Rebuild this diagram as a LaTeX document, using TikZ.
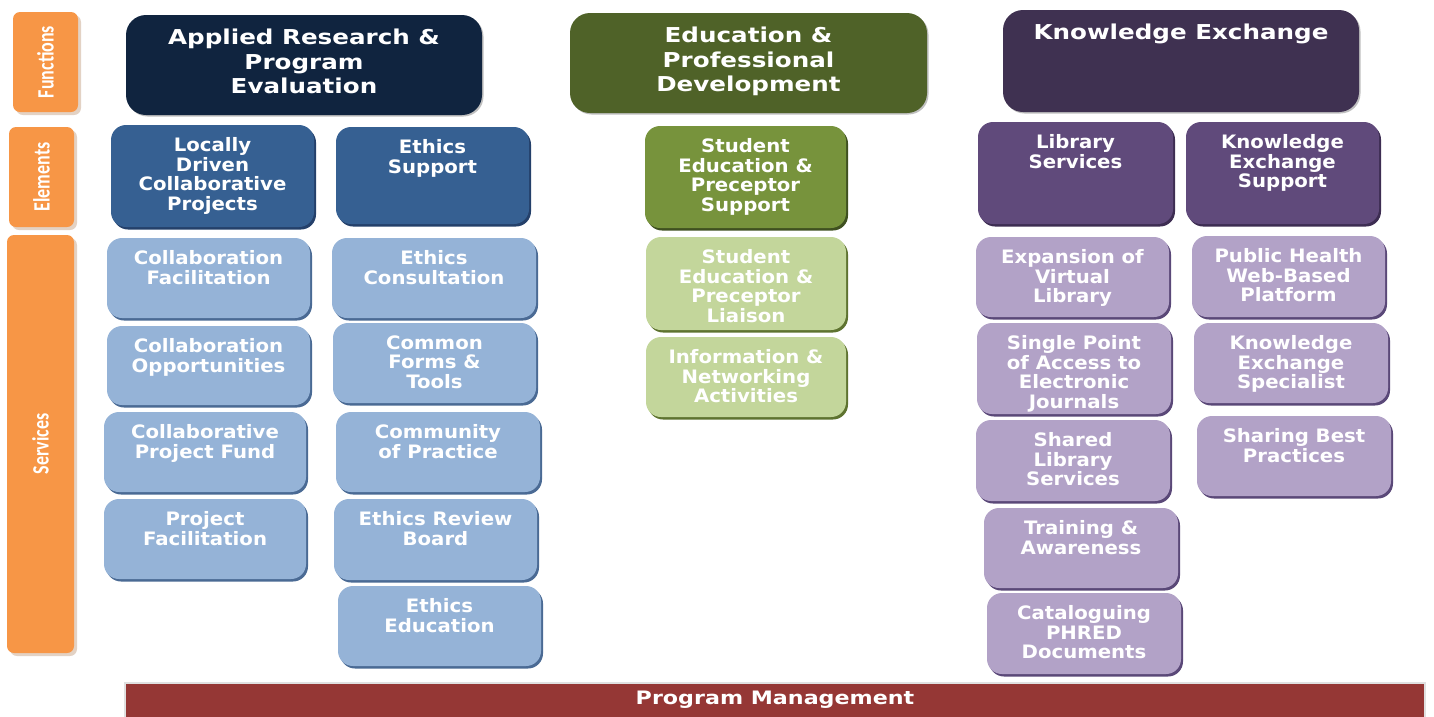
\documentclass[tikz,border=0pt]{standalone}
\usepackage{fontspec}
\usetikzlibrary{shadows}
\newfontfamily\boxfont{DejaVu Sans}[FakeStretch=1.065]
\newfontfamily\headfont{DejaVu Sans}[FakeStretch=1.2]
\newfontfamily\sidefont{Carlito}

\definecolor{sideorange}{HTML}{F79646}
\definecolor{sideshade}{HTML}{E3D2C4}
\definecolor{arnavy}{HTML}{10243F}
\definecolor{arblue}{HTML}{366092}
\definecolor{arblueshade}{HTML}{24406A}
\definecolor{arlight}{HTML}{95B3D7}
\definecolor{arlightshade}{HTML}{4A6A94}
\definecolor{edudark}{HTML}{4F6228}
\definecolor{edumid}{HTML}{77933C}
\definecolor{edumidshade}{HTML}{3F5020}
\definecolor{edulight}{HTML}{C3D69B}
\definecolor{edulightshade}{HTML}{5E7330}
\definecolor{kedark}{HTML}{3F3151}
\definecolor{kemid}{HTML}{604A7B}
\definecolor{kemidshade}{HTML}{3D2D52}
\definecolor{kelight}{HTML}{B2A2C7}
\definecolor{kelightshade}{HTML}{5A4878}
\definecolor{pmred}{HTML}{953735}

\tikzstyle{box} = [rectangle, rounded corners=15pt, inner sep=0pt, outer sep=0pt, draw=none]
\tikzstyle{side} = [box, rounded corners=7pt, fill=sideorange,
copy shadow={shadow xshift=3pt, shadow yshift=-3pt, fill=sideshade, draw=none}]
\tikzstyle{func} = [box, rounded corners=20pt,
copy shadow={shadow xshift=1.5pt, shadow yshift=-1.5pt, fill=black!25, draw=none}]
\tikzstyle{elem} = [box]
\tikzstyle{serv} = [box]
\tikzstyle{txt} = [anchor=north, inner sep=0pt, align=center, text=white, yshift=-12.5pt,
font=\boxfont\bfseries\fontsize{18.5}{19.5}\selectfont]
\tikzstyle{headtxt} = [txt, yshift=-1.5pt, font=\headfont\bfseries\fontsize{20.5}{24.5}\selectfont]
\tikzstyle{sidetxt} = [rotate=90, inner sep=0pt, text=white, font=\sidefont\bfseries\fontsize{18}{20}\selectfont]

\tikzset{
  shade/.style={copy shadow={shadow xshift=2pt, shadow yshift=-2.5pt, fill=#1, draw=none}}
}

\newcommand{\card}[8][txt]{%
  \node[#3, minimum width={#6pt-#4pt}, minimum height={#7pt-#5pt}] (#2) at ({(#4+#6)/2},{(#5+#7)/2}) {};
  \node[#1] (#2-t) at (#2.north) {#8};
}

\begin{document}
\begin{tikzpicture}[x=1pt, y=-1pt]
  \useasboundingbox (0,0) rectangle (1434,716);

  \node (functions) [side, minimum width=65pt, minimum height=100pt] at (45.5,62) {};
  \node (elements) [side, minimum width=65pt, minimum height=100pt] at (41.5,177) {};
  \node (services) [side, minimum width=67pt, minimum height=418pt] at (40.5,444) {};
  \node (functions-t) [sidetxt] at (functions) {\scalebox{1}[1.3]{Functions}};
  \node (elements-t) [sidetxt] at (elements) {\scalebox{1}[1.3]{Elements}};
  \node (services-t) [sidetxt] at (services) {\scalebox{1}[1.3]{Services}};

  \card[headtxt]{fnar}{func, fill=arnavy}{126}{15}{482}{115}{Applied Research \&\\Program\\Evaluation}
  \card[headtxt]{fnedu}{func, fill=edudark}{570}{13}{927}{113}{Education \&\\Professional\\Development}
  \card[headtxt]{fnke}{func, fill=kedark}{1003}{10}{1359}{112}{Knowledge Exchange}

  \card{elloc}{elem, fill=arblue, shade=arblueshade}{111}{125}{314}{227}{Locally\\Driven\\Collaborative\\Projects}
  \card{eleth}{elem, fill=arblue, shade=arblueshade}{336}{127}{529}{224}{Ethics\\Support}
  \card{elstu}{elem, fill=edumid, shade=edumidshade}{645}{126}{846}{228}{Student\\Education \&\\Preceptor\\Support}
  \card{ellib}{elem, fill=kemid, shade=kemidshade}{978}{122}{1173}{224}{Library\\Services}
  \card{elkes}{elem, fill=kemid, shade=kemidshade}{1186}{122}{1379}{224}{Knowledge\\Exchange\\Support}

  \card{svcolfac}{serv, fill=arlight, shade=arlightshade}{107}{238}{310}{318}{Collaboration\\Facilitation}
  \card{svcolopp}{serv, fill=arlight, shade=arlightshade}{107}{326}{310}{405}{Collaboration\\Opportunities}
  \card{svcolfund}{serv, fill=arlight, shade=arlightshade}{104}{412}{306}{492}{Collaborative\\Project Fund}
  \card{svprojfac}{serv, fill=arlight, shade=arlightshade}{104}{499}{306}{579}{Project\\Facilitation}

  \card{svethcons}{serv, fill=arlight, shade=arlightshade}{332}{238}{536}{318}{Ethics\\Consultation}
  \card{svforms}{serv, fill=arlight, shade=arlightshade}{333}{323}{536}{403}{Common\\Forms \&\\Tools}
  \card{svcomm}{serv, fill=arlight, shade=arlightshade}{336}{412}{540}{492}{Community\\of Practice}
  \card{svethrev}{serv, fill=arlight, shade=arlightshade}{334}{499}{537}{580}{Ethics Review\\Board}
  \card{svethedu}{serv, fill=arlight, shade=arlightshade}{338}{586}{541}{666}{Ethics\\Education}

  \card{svliaison}{serv, fill=edulight, shade=edulightshade}{646}{237}{846}{330}{Student\\Education \&\\Preceptor\\Liaison}
  \card{svinfo}{serv, fill=edulight, shade=edulightshade}{646}{337}{846}{417}{Information \&\\Networking\\Activities}

  \card{svvirt}{serv, fill=kelight, shade=kelightshade}{976}{237}{1169}{317}{Expansion of\\Virtual\\Library}
  \card{svaccess}{serv, fill=kelight, shade=kelightshade}{977}{323}{1171}{414}{Single Point\\of Access to\\Electronic\\Journals}
  \card{svshared}{serv, fill=kelight, shade=kelightshade}{976}{420}{1170}{501}{Shared\\Library\\Services}
  \card{svtrain}{serv, fill=kelight, shade=kelightshade}{984}{508}{1178}{588}{Training \&\\Awareness}
  \card{svcatal}{serv, fill=kelight, shade=kelightshade}{987}{593}{1181}{674}{Cataloguing\\PHRED\\Documents}

  \card{svweb}{serv, fill=kelight, shade=kelightshade}{1192}{236}{1385}{317}{Public Health\\Web-Based\\Platform}
  \card{svspec}{serv, fill=kelight, shade=kelightshade}{1194}{323}{1388}{403}{Knowledge\\Exchange\\Specialist}
  \card{svbest}{serv, fill=kelight, shade=kelightshade}{1197}{416}{1391}{496}{Sharing Best\\Practices}

  \node (pm) [rectangle, fill=pmred, draw=black!12, line width=1.5pt, inner sep=0pt,
    minimum width=1300pt, minimum height=40pt] at (775,703) {};
  \node (pm-t) [inner sep=0pt, text=white, font=\headfont\bfseries\fontsize{18.5}{20}\selectfont] at (775,700) {Program Management};
\end{tikzpicture}
\end{document}
